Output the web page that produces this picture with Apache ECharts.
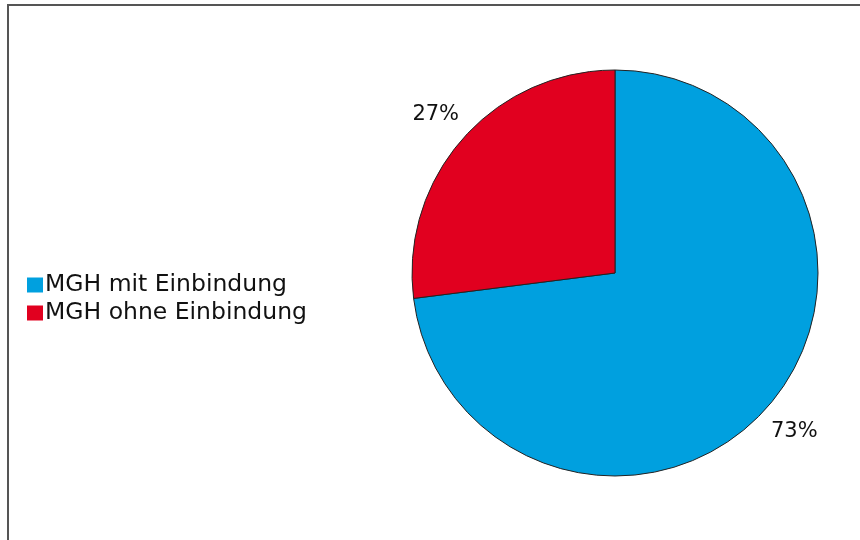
<!DOCTYPE html>
<html><head><meta charset="utf-8">
<script src="https://cdn.jsdelivr.net/npm/echarts@6/dist/echarts.min.js"></script>
<style>html,body{margin:0;padding:0;background:#fff}#c{width:860px;height:540px}</style>
</head><body><div id="c"></div>
<script>
const categories = ['MGH mit Einbindung', 'MGH ohne Einbindung'];
const values = [73, 27];
const colors = ['#00A0DF', '#E1001F'];

const chart = echarts.init(document.getElementById('c'));
const data = categories.map((n, i) => ({ name: n, value: values[i], itemStyle: { color: colors[i] } }));
const font = '"DejaVu Sans", sans-serif';
chart.setOption({
  animation: false,
  graphic: [{ type: 'rect', shape: { x: 8, y: 5, width: 900, height: 600 }, style: { fill: 'none', stroke: '#555', lineWidth: 2 }, silent: true }],
  legend: {
    orient: 'vertical', left: 22, top: 268,
    itemWidth: 16, itemHeight: 15, itemGap: 4,
    icon: 'rect',
    data: categories.map((n, i) => ({ name: n, itemStyle: { color: colors[i], borderWidth: 0 } })),
    textStyle: { fontSize: 23.5, color: '#111', fontFamily: font, padding: [0, 0, 0, -3] }
  },
  series: [
    {
      type: 'pie', center: [615, 273], radius: 203, startAngle: 90, clockwise: true,
      data: data,
      label: { show: false }, labelLine: { show: false },
      itemStyle: { borderColor: '#222', borderWidth: 1 },
      emphasis: { disabled: true }
    },
    {
      type: 'pie', center: [615, 273], radius: [224, 248], startAngle: 90, clockwise: true,
      silent: true,
      data: categories.map((n, i) => ({ name: n, value: values[i] })),
      itemStyle: { color: 'rgba(0,0,0,0)' },
      label: { show: true, position: 'inside', formatter: '{c}%', fontSize: 21, color: '#111', fontFamily: font },
      labelLine: { show: false },
      emphasis: { disabled: true }
    }
  ]
});
</script></body></html>
